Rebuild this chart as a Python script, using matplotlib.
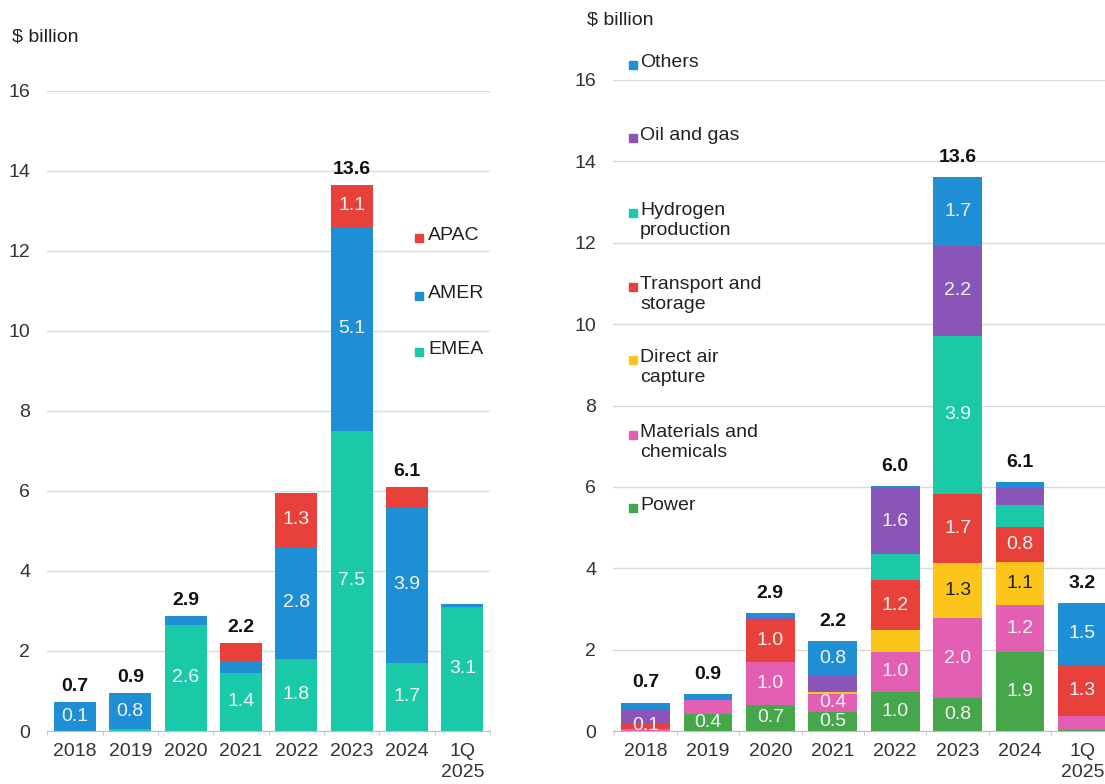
import numpy as np
import matplotlib
matplotlib.use("Agg")
import matplotlib.pyplot as plt
from matplotlib.patches import Rectangle

plt.rcParams['font.family'] = ['Liberation Sans', 'DejaVu Sans']
plt.rcParams['font.size'] = 14

# categories
years = ["2018", "2019", "2020", "2021", "2022", "2023", "2024", "1Q\n2025"]

# left panel: by region ($ billion)
emea = [0.0, 0.05, 2.65, 1.45, 1.8, 7.5, 1.7, 3.1]
amer = [0.72, 0.87, 0.22, 0.3, 2.8, 5.1, 3.9, 0.08]
apac = [0.0, 0.02, 0.0, 0.45, 1.35, 1.05, 0.5, 0.0]
emea_lbl = ["", "", "2.6", "1.4", "1.8", "7.5", "1.7", "3.1"]
amer_lbl = ["0.1", "0.8", "", "", "2.8", "5.1", "3.9", ""]
apac_lbl = ["", "", "", "", "1.3", "1.1", "", ""]
left_tot_lbl = ["0.7", "0.9", "2.9", "2.2", "", "13.6", "6.1", ""]

# right panel: by sector ($ billion)
power = [0.0, 0.41, 0.65, 0.47, 0.97, 0.8, 1.93, 0.03]
materials = [0.05, 0.35, 1.05, 0.44, 0.97, 1.97, 1.17, 0.34]
dac = [0.0, 0.0, 0.0, 0.06, 0.54, 1.36, 1.06, 0.0]
transport = [0.15, 0.0, 1.03, 0.0, 1.22, 1.69, 0.85, 1.26]
hydrogen = [0.0, 0.0, 0.0, 0.0, 0.64, 3.9, 0.55, 0.0]
oilgas = [0.33, 0.0, 0.05, 0.4, 1.64, 2.2, 0.42, 0.0]
others = [0.17, 0.15, 0.12, 0.83, 0.03, 1.7, 0.14, 1.51]
power_lbl = ["", "0.4", "0.7", "0.5", "1.0", "0.8", "1.9", ""]
materials_lbl = ["", "", "1.0", "0.4", "1.0", "2.0", "1.2", ""]
dac_lbl = ["", "", "", "", "", "1.3", "1.1", ""]
transport_lbl = ["0.1", "", "1.0", "", "1.2", "1.7", "0.8", "1.3"]
hydrogen_lbl = ["", "", "", "", "", "3.9", "", ""]
oilgas_lbl = ["", "", "", "", "1.6", "2.2", "", ""]
others_lbl = ["", "", "", "0.8", "", "1.7", "", "1.5"]
right_tot_lbl = ["0.7", "0.9", "2.9", "2.2", "6.0", "13.6", "6.1", "3.2"]

TEAL = "#19c9a8"
BLUE = "#1e8fd5"
RED = "#e8413c"
GREEN = "#45a64a"
PINK = "#e25fb4"
YELLOW = "#fcc51b"
PURPLE = "#8a55b8"

W, H = 1105, 784
fig = plt.figure(figsize=(W / 100, H / 100), dpi=100)


def px_axes(x0, x1, y0, y1):
    # y0 = bottom pixel row, y1 = top pixel row
    return fig.add_axes([x0 / W, 1 - y0 / H, (x1 - x0) / W, (y0 - y1) / H])


def style_axes(ax, xlim):
    ax.set_xlim(*xlim)
    ax.set_ylim(0, 16)
    ax.set_yticks(np.arange(0, 17, 2))
    ax.set_xticks(range(len(years)))
    ax.set_xticklabels(years, color="#333333", linespacing=1.25)
    ax.set_xticks(np.arange(len(years) + 1) - 0.5, minor=True)
    ax.tick_params(axis="y", length=0, pad=12, colors="#333333")
    ax.tick_params(axis="x", which="major", length=0, pad=9)
    ax.tick_params(axis="x", which="minor", length=3, color="#bfbfbf")
    for s in ["top", "right", "left"]:
        ax.spines[s].set_visible(False)
    ax.spines["bottom"].set_color("#bfbfbf")
    ax.grid(axis="y", color="#dadada", lw=1)
    ax.set_axisbelow(True)


def stack(ax, series, width, tot_lbl, tot_pad):
    x = np.arange(len(years))
    bottom = np.zeros(len(years))
    for vals, col, lbls, tcol in series:
        vals = np.array(vals)
        ax.bar(x, vals, width, bottom=bottom, color=col, zorder=2)
        for i, t in enumerate(lbls):
            if t:
                ax.text(x[i], bottom[i] + vals[i] / 2, t, ha="center", va="center",
                        color=tcol, fontsize=14, zorder=3)
        bottom += vals
    for i, t in enumerate(tot_lbl):
        if t:
            ax.annotate(t, (x[i], bottom[i]), xytext=(0, tot_pad), textcoords="offset points",
                        ha="center", va="bottom", fontweight="bold", fontsize=14, color="#111111")


LT = "#f4f4f4"

# left panel
axl = px_axes(47, 490, 731, 90.5)
style_axes(axl, (-0.505, 7.49))
stack(axl, [(emea, TEAL, emea_lbl, LT), (amer, BLUE, amer_lbl, LT), (apac, RED, apac_lbl, LT)],
      0.76, left_tot_lbl, 5)

# right panel (runs off the right edge)
axr = px_axes(613, 1115, 731, 80)
style_axes(axr, (-0.52, 7.52))
stack(axr, [(power, GREEN, power_lbl, LT), (materials, PINK, materials_lbl, LT),
            (dac, YELLOW, dac_lbl, "#222222"), (transport, RED, transport_lbl, LT),
            (hydrogen, TEAL, hydrogen_lbl, LT), (oilgas, PURPLE, oilgas_lbl, LT),
            (others, BLUE, others_lbl, LT)],
      0.78, right_tot_lbl, 8)

# unit labels
fig.text(12 / W, 1 - 37 / H, "$ billion", va="center", ha="left", color="#222222")
fig.text(587 / W, 1 - 20 / H, "$ billion", va="center", ha="left", color="#222222")


def legend_item(xs, xt, yc, col, label):
    fig.patches.append(Rectangle(((xs - 4) / W, 1 - (yc + 4) / H), 8 / W, 8 / H,
                                 transform=fig.transFigure, color=col))
    fig.text(xt / W, 1 - (yc - 11) / H, label, va="top", ha="left", color="#222222",
             linespacing=1.2)


for yc, col, lab in [(238, RED, "APAC"), (296, BLUE, "AMER"), (352, TEAL, "EMEA")]:
    legend_item(419, 428, yc, col, lab)

for yc, col, lab in [(65, BLUE, "Others"), (138, PURPLE, "Oil and gas"),
                     (213, TEAL, "Hydrogen\nproduction"), (287, RED, "Transport and\nstorage"),
                     (360, YELLOW, "Direct air\ncapture"), (435, PINK, "Materials and\nchemicals"),
                     (508, GREEN, "Power")]:
    legend_item(633, 640, yc, col, lab)

fig.savefig("out.png", dpi=100, facecolor="white")
